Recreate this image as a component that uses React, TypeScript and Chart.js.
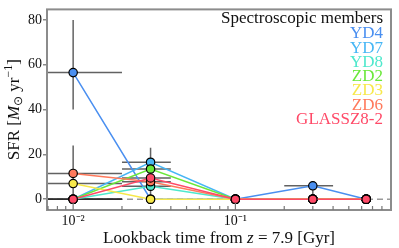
import { useEffect, useRef } from 'react';
import { Chart, registerables } from 'chart.js';

Chart.register(...registerables);

// ---- data ----
const lookback = [0.01, 0.03, 0.1, 0.3, 0.64];
const seriesNames = ['YD4', 'YD7', 'YD8', 'ZD2', 'ZD3', 'ZD6', 'GLASSZ8-2'];
const seriesColors = ['#4a8ff0', '#46b6f5', '#4ee8cc', '#6ae83a', '#f7e84a', '#ff7a5c', '#ff4a68'];

const yd4 = [56.5, 0, 0, 6, 0];
const yd7 = [0, 16.5, 0, 0, 0];
const yd8 = [0, 5.8, 0, 0, 0];
const zd2 = [0, 13.5, 0, 0, 0];
const zd3 = [7, 0, 0, 0, 0];
const zd6 = [11.5, 7.8, 0, 0, 0];
const glassz82 = [0, 9.5, 0, 0, 0];

// error bars per point: [xLow, xHigh, yLow, yHigh] or null
const yd4Err = [[0.001, 0.02, 40, 80], null, null, [0.2, 0.4, 0, 6], null];
const yd7Err = [[0.001, 0.02, 0, 0], [0.02, 0.04, 0, 23], null, null, null];
const yd8Err = [[0.001, 0.02, 0, 0], [0.02, 0.04, 5.8, 5.8], null, null, null];
const zd2Err = [[0.001, 0.02, 0, 0], [0.02, 0.04, 13.5, 13.5], null, null, null];
const zd3Err = [[0.001, 0.02, 7, 7], null, null, null, null];
const zd6Err = [[0.001, 0.02, 0, 24], [0.02, 0.04, 7.8, 7.8], null, null, null];
const glassz82Err = [[0.001, 0.02, 0, 0], [0.02, 0.04, 9.5, 9.5], null, null, null];

const seriesValues = [yd4, yd7, yd8, zd2, zd3, zd6, glassz82];
const seriesErrors = [yd4Err, yd7Err, yd8Err, zd2Err, zd3Err, zd6Err, glassz82Err];

const yTickValues = [0, 20, 40, 60, 80];
const xMajorTicks = [0.01, 0.1];
const xTickLabels = ['10\u207B\u00B2', '10\u207B\u00B9'];
const legendTitle = 'Spectroscopic members';

const X_MIN = 0.0069;
const X_MAX = 0.91;
const Y_MIN = -4.8;
const Y_MAX = 84.7;

const FONT = "'Liberation Serif', 'Times New Roman', serif";

function drawPieces(ctx: CanvasRenderingContext2D, pieces: any[], cx: number, cy: number) {
  let total = 0;
  for (const p of pieces) {
    ctx.font = p.font;
    total += ctx.measureText(p.t).width;
  }
  let x = cx - total / 2;
  for (const p of pieces) {
    ctx.font = p.font;
    ctx.fillText(p.t, x, cy + (p.dy || 0));
    x += ctx.measureText(p.t).width;
  }
}

const customPlugin = {
  id: 'customDecor',
  beforeDatasetsDraw(chart: any) {
    const { ctx, chartArea } = chart;
    const xs = chart.scales.x;
    const ys = chart.scales.y;
    ctx.save();
    ctx.beginPath();
    ctx.rect(chartArea.left, chartArea.top, chartArea.right - chartArea.left, chartArea.bottom - chartArea.top);
    ctx.clip();
    // dashed zero line
    ctx.strokeStyle = '#9a9a9a';
    ctx.lineWidth = 1.5;
    ctx.setLineDash([6, 4]);
    ctx.beginPath();
    ctx.moveTo(chartArea.left, ys.getPixelForValue(0));
    ctx.lineTo(chartArea.right, ys.getPixelForValue(0));
    ctx.stroke();
    ctx.setLineDash([]);
    // error bars
    ctx.strokeStyle = 'rgba(45,45,45,0.75)';
    ctx.lineWidth = 1.5;
    seriesErrors.forEach((errs, si) => {
      errs.forEach((e: any, i: number) => {
        if (!e) return;
        const px = xs.getPixelForValue(lookback[i]);
        const py = ys.getPixelForValue(seriesValues[si][i]);
        ctx.beginPath();
        ctx.moveTo(Math.max(xs.getPixelForValue(e[0]), chartArea.left - 5), py);
        ctx.lineTo(xs.getPixelForValue(e[1]), py);
        ctx.stroke();
        if (e[3] !== e[2]) {
          ctx.beginPath();
          ctx.moveTo(px, ys.getPixelForValue(e[2]));
          ctx.lineTo(px, ys.getPixelForValue(e[3]));
          ctx.stroke();
        }
      });
    });
    ctx.restore();
  },
  afterDraw(chart: any) {
    const { ctx, chartArea } = chart;
    const xs = chart.scales.x;
    ctx.save();
    // frame
    ctx.strokeStyle = '#8c8c8c';
    ctx.lineWidth = 2;
    ctx.strokeRect(chartArea.left, chartArea.top, chartArea.right - chartArea.left, chartArea.bottom - chartArea.top);
    // inward x ticks
    ctx.strokeStyle = '#777';
    ctx.lineWidth = 1.2;
    xs.ticks.forEach((t: any) => {
      const px = xs.getPixelForValue(t.value);
      if (px < chartArea.left + 1 || px > chartArea.right - 1) return;
      const major = xMajorTicks.some((m) => Math.abs(m - t.value) / m < 1e-6);
      ctx.beginPath();
      ctx.moveTo(px, chartArea.bottom);
      ctx.lineTo(px, chartArea.bottom - (major ? 7 : 4));
      ctx.stroke();
    });
    // axis titles
    ctx.fillStyle = '#111';
    ctx.textBaseline = 'alphabetic';
    ctx.textAlign = 'left';
    const n17 = `17px ${FONT}`;
    const i17 = `italic 17px ${FONT}`;
    const n12 = `12px ${FONT}`;
    drawPieces(ctx, [
      { t: 'Lookback time from ', font: n17 },
      { t: 'z', font: i17 },
      { t: ' = 7.9 [Gyr]', font: n17 },
    ], (chartArea.left + chartArea.right) / 2, 243);
    ctx.save();
    ctx.translate(19, (chartArea.top + chartArea.bottom) / 2);
    ctx.rotate(-Math.PI / 2);
    drawPieces(ctx, [
      { t: 'SFR [', font: n17 },
      { t: 'M', font: i17 },
      { t: '\u2299', font: n12, dy: 3 },
      { t: ' yr', font: n17 },
      { t: '\u22121', font: n12, dy: -7 },
      { t: ']', font: n17 },
    ], 0, 0);
    ctx.restore();
    // legend
    ctx.textAlign = 'right';
    ctx.textBaseline = 'middle';
    ctx.font = `17px ${FONT}`;
    const lx = chartArea.right - 8;
    ctx.fillStyle = '#111';
    ctx.fillText(legendTitle, lx, 19);
    seriesNames.forEach((name, i) => {
      ctx.fillStyle = seriesColors[i];
      ctx.fillText(name, lx, 33.8 + i * 14.3);
    });
    ctx.restore();
  },
};

function buildLogTicks() {
  const out: any[] = [];
  for (let e = -3; e <= 0; e++) {
    for (let m = 1; m <= 9; m++) {
      const v = m * Math.pow(10, e);
      if (v >= X_MIN && v <= X_MAX) out.push({ value: v });
    }
  }
  return out;
}

export default function App() {
  const ref = useRef<HTMLCanvasElement>(null);
  useEffect(() => {
    document.body.style.margin = '0';
    const canvas = ref.current!;
    const n = seriesNames.length;
    const chart = new Chart(canvas, {
      type: 'scatter',
      data: {
        datasets: seriesNames.map((name, si) => ({
          label: name,
          data: lookback.map((x, i) => ({ x, y: seriesValues[si][i] })),
          showLine: true,
          borderColor: seriesColors[si],
          backgroundColor: seriesColors[si],
          borderWidth: 1.5,
          pointRadius: 4.2,
          pointBorderColor: '#000',
          pointBorderWidth: 1.2,
          pointBackgroundColor: seriesColors[si],
          order: n - 1 - si,
          clip: false,
        })),
      },
      options: {
        responsive: false,
        animation: false,
        devicePixelRatio: 1,
        layout: { padding: { top: 5, right: 8, left: 0, bottom: 0 } },
        plugins: { legend: { display: false }, tooltip: { enabled: false } },
        scales: {
          x: {
            type: 'logarithmic',
            min: X_MIN,
            max: X_MAX,
            afterBuildTicks: (s: any) => { s.ticks = buildLogTicks(); },
            afterFit: (s: any) => { s.height = 38; },
            grid: { display: false, drawTicks: false },
            border: { display: false },
            ticks: {
              autoSkip: false,
              maxRotation: 0,
              padding: 3,
              color: '#111',
              font: { size: 14, family: FONT },
              callback: (v: any) => {
                const idx = xMajorTicks.findIndex((m) => Math.abs(m - Number(v)) / m < 1e-6);
                return idx >= 0 ? xTickLabels[idx] : '';
              },
            },
          },
          y: {
            min: Y_MIN,
            max: Y_MAX,
            afterBuildTicks: (s: any) => { s.ticks = yTickValues.map((v) => ({ value: v })); },
            afterFit: (s: any) => { s.width = 47; },
            grid: { drawOnChartArea: false, drawTicks: true, tickLength: 4, color: '#888', lineWidth: 1.5 },
            border: { display: false },
            ticks: {
              padding: 1,
              color: '#111',
              font: { size: 14, family: FONT },
            },
          },
        },
      },
      plugins: [customPlugin],
    } as any);
    return () => chart.destroy();
  }, []);
  return (
    <div style={{ width: 399, height: 248 }}>
      <canvas ref={ref} width={399} height={248} style={{ display: 'block' }} />
    </div>
  );
}
